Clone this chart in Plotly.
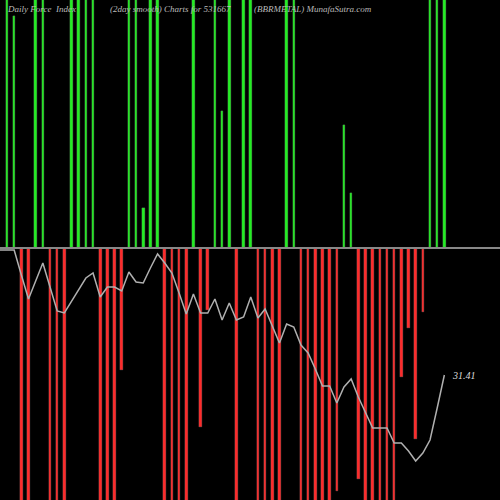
import plotly.graph_objects as go

idx = list(range(62))
# force index bars (pixel-scaled units, + up / - down); large magnitudes run off the chart
bars = [260,232,-260,-260,260,260,-260,-260,-260,260,260,260,260,-260,-260,-260,-122,260,260,40,260,260,
        -260,-260,-260,-260,260,-179,-62,260,137,260,-260,260,260,-260,-260,-260,-260,260,260,-260,-260,-260,
        -260,-260,-243,123,55,-231,-260,-260,-260,-260,-260,-129,-80,-191,-64,260,260,260]
line_y = [250,250,275,299,281,263,287,311,313,301,290,278,273,297,287,287,291,272,282,283,268,254,263,273,293,
          314,294,313,313,299,320,303,320,317,297,318,309,326,343,324,327,345,353,369,386,386,403,387,379,397,
          412,428,428,428,443,443,451,461,453,440,408,375]
line_vals = [248 - y for y in line_y]
last_label = "31.41"

colors = ["#22ee22" if b > 0 else "#ff2a2a" for b in bars]
fig = go.Figure()
fig.add_trace(go.Bar(x=idx, y=bars, width=0.36, marker=dict(color=colors, line=dict(color="#777777", width=0.3))))
fig.add_hline(y=0, line=dict(color="#888888", width=2))
fig.add_trace(go.Scatter(x=[-1] + idx, y=[line_vals[0]] + line_vals, mode="lines",
                         line=dict(color="#b0b0b0", width=1.5)))
fig.add_annotation(x=idx[-1], y=line_vals[-1], text="<i>" + last_label + "</i>", showarrow=False,
                   xanchor="left", xshift=6, font=dict(family="Liberation Serif", size=10, color="#dddddd"))
for x, t in [(5, "Daily Force  Index"), (108, "(2day smooth) Charts for 531667"), (252, "(BBRMETAL) MunafaSutra.com")]:
    fig.add_annotation(x=x / 500, y=1, xref="paper", yref="paper", text="<i>" + t + "</i>", showarrow=False,
                       xanchor="left", yanchor="top", yshift=-2,
                       font=dict(family="Liberation Serif", size=9, color="#bbbbbb"))
fig.update_layout(width=500, height=500, margin=dict(l=0, r=0, t=0, b=0), showlegend=False,
                  paper_bgcolor="black", plot_bgcolor="black", bargap=0, hovermode=False,
                  xaxis=dict(range=[-0.976, 68.76], visible=False),
                  yaxis=dict(range=[-252, 248], visible=False))
fig.write_html("out.html", config={"displayModeBar": False},
               post_script="document.body.style.margin='0';document.body.style.background='black';")
